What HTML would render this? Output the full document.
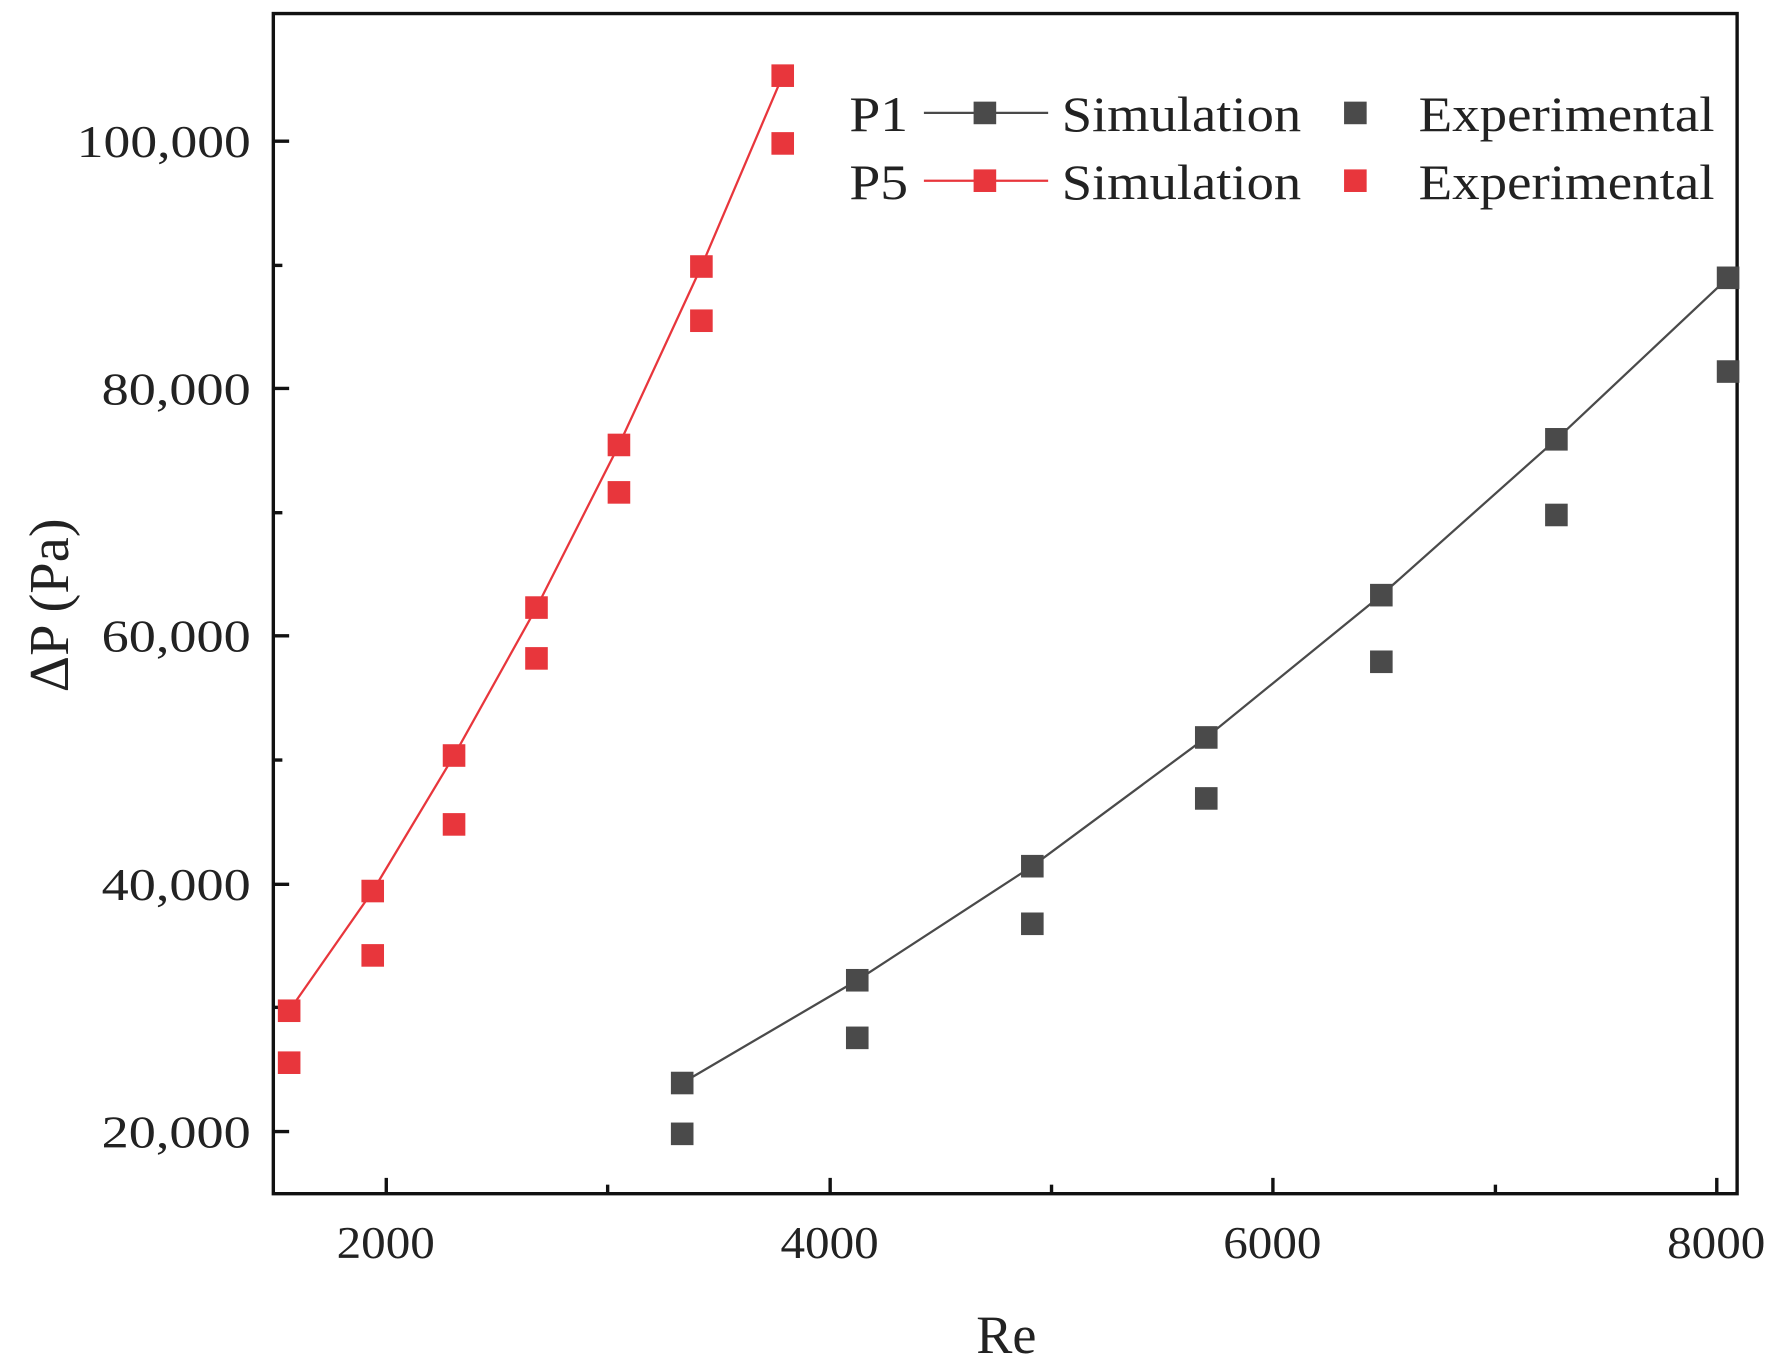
<!DOCTYPE html>
<html><head><meta charset="utf-8"><style>
html,body{margin:0;padding:0;background:#fff;}
svg{display:block;}
text{font-family:"Liberation Serif",serif;fill:#222;}
</style></head><body>
<svg width="1771" height="1371" viewBox="0 0 1568 1214" preserveAspectRatio="none" xmlns="http://www.w3.org/2000/svg">
<rect width="1568" height="1214" fill="#fff"/>
<rect x="242" y="12" width="1296" height="1045" fill="none" stroke="#111" stroke-width="3"/>
<g stroke="#111" stroke-width="3">
<line x1="342" y1="1057" x2="342" y2="1043"/>
<line x1="735" y1="1057" x2="735" y2="1043"/>
<line x1="1127" y1="1057" x2="1127" y2="1043"/>
<line x1="1520" y1="1057" x2="1520" y2="1043"/>
<line x1="538" y1="1057" x2="538" y2="1049"/>
<line x1="931" y1="1057" x2="931" y2="1049"/>
<line x1="1324" y1="1057" x2="1324" y2="1049"/>
<line x1="242" y1="125" x2="256" y2="125"/>
<line x1="242" y1="344" x2="256" y2="344"/>
<line x1="242" y1="563" x2="256" y2="563"/>
<line x1="242" y1="783" x2="256" y2="783"/>
<line x1="242" y1="1002" x2="256" y2="1002"/>
<line x1="242" y1="235" x2="250" y2="235"/>
<line x1="242" y1="454" x2="250" y2="454"/>
<line x1="242" y1="673" x2="250" y2="673"/>
<line x1="242" y1="892" x2="250" y2="892"/>
</g>
<g font-size="40">
<text x="68" y="139" textLength="154" lengthAdjust="spacingAndGlyphs">100,000</text>
<text x="90" y="358" textLength="132" lengthAdjust="spacingAndGlyphs">80,000</text>
<text x="90" y="577" textLength="132" lengthAdjust="spacingAndGlyphs">60,000</text>
<text x="90" y="797" textLength="132" lengthAdjust="spacingAndGlyphs">40,000</text>
<text x="90" y="1016" textLength="132" lengthAdjust="spacingAndGlyphs">20,000</text>
</g>
<g font-size="40">
<text x="298" y="1114" textLength="87" lengthAdjust="spacingAndGlyphs">2000</text>
<text x="691" y="1114" textLength="87" lengthAdjust="spacingAndGlyphs">4000</text>
<text x="1083" y="1114" textLength="87" lengthAdjust="spacingAndGlyphs">6000</text>
<text x="1476" y="1114" textLength="87" lengthAdjust="spacingAndGlyphs">8000</text>
</g>
<text x="891" y="1198" font-size="48" text-anchor="middle">Re</text>
<text transform="translate(60,536) rotate(-90)" font-size="50" text-anchor="middle">ΔP (Pa)</text>
<polyline fill="none" stroke="#e8363c" stroke-width="2" points="256,895 330,789 402,669 475,538 548,394 621,236 693,67"/>
<g fill="#e8363c">
<rect x="246" y="885" width="20" height="20"/><rect x="320" y="779" width="20" height="20"/><rect x="392" y="659" width="20" height="20"/><rect x="465" y="528" width="20" height="20"/><rect x="538" y="384" width="20" height="20"/><rect x="611" y="226" width="20" height="20"/><rect x="683" y="57" width="20" height="20"/>
<rect x="246" y="931" width="20" height="20"/><rect x="320" y="836" width="20" height="20"/><rect x="392" y="720" width="20" height="20"/><rect x="465" y="573" width="20" height="20"/><rect x="538" y="426" width="20" height="20"/><rect x="611" y="274" width="20" height="20"/><rect x="683" y="117" width="20" height="20"/>
</g>
<polyline fill="none" stroke="#4a4a4a" stroke-width="2" points="604,959 759,868 914,767 1068,653 1223,527 1378,389 1530,246"/>
<g fill="#4a4a4a">
<rect x="594" y="949" width="20" height="20"/><rect x="749" y="858" width="20" height="20"/><rect x="904" y="757" width="20" height="20"/><rect x="1058" y="643" width="20" height="20"/><rect x="1213" y="517" width="20" height="20"/><rect x="1368" y="379" width="20" height="20"/><rect x="1520" y="236" width="20" height="20"/>
<rect x="594" y="994" width="20" height="20"/><rect x="749" y="909" width="20" height="20"/><rect x="904" y="808" width="20" height="20"/><rect x="1058" y="697" width="20" height="20"/><rect x="1213" y="576" width="20" height="20"/><rect x="1368" y="446" width="20" height="20"/><rect x="1520" y="319" width="20" height="20"/>
</g>
<g font-size="44">
<text x="752" y="116" textLength="52" lengthAdjust="spacingAndGlyphs">P1</text>
<text x="752" y="176" textLength="52" lengthAdjust="spacingAndGlyphs">P5</text>
<text x="940" y="116" textLength="212" lengthAdjust="spacingAndGlyphs">Simulation</text>
<text x="940" y="176" textLength="212" lengthAdjust="spacingAndGlyphs">Simulation</text>
<text x="1256" y="116" textLength="262" lengthAdjust="spacingAndGlyphs">Experimental</text>
<text x="1256" y="176" textLength="262" lengthAdjust="spacingAndGlyphs">Experimental</text>
</g>
<line x1="818" y1="100" x2="928" y2="100" stroke="#4a4a4a" stroke-width="2"/>
<rect x="862" y="90" width="20" height="20" fill="#4a4a4a"/>
<rect x="1190" y="90" width="20" height="20" fill="#4a4a4a"/>
<line x1="818" y1="160" x2="928" y2="160" stroke="#e8363c" stroke-width="2"/>
<rect x="862" y="150" width="20" height="20" fill="#e8363c"/>
<rect x="1190" y="150" width="20" height="20" fill="#e8363c"/>
</svg>
</body></html>
